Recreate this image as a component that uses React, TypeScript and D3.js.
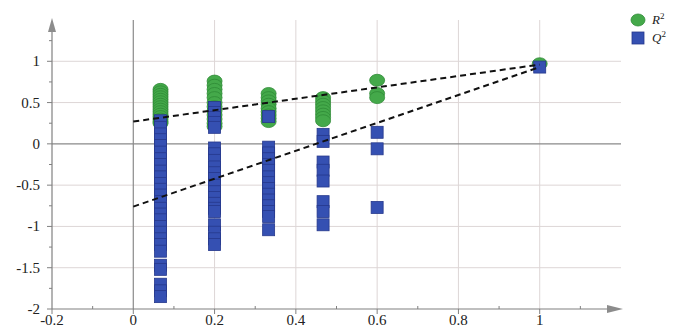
import React from 'react';
import * as d3 from 'd3';

// permutation retention (x) and the R2 / Q2 values found at each
const permX = [0.067, 0.2, 0.333, 0.467, 0.6, 1];

const r2Values = [
  [0.66, 0.63, 0.6, 0.57, 0.54, 0.51, 0.48, 0.45, 0.42, 0.39, 0.36, 0.33, 0.3, 0.27, 0.25],
  [0.76, 0.71, 0.66, 0.61, 0.56, 0.5, 0.45, 0.4, 0.35, 0.3, 0.25, 0.21],
  [0.61, 0.56, 0.52, 0.48, 0.43, 0.39, 0.35, 0.31, 0.27],
  [0.56, 0.52, 0.48, 0.44, 0.4, 0.36, 0.32, 0.28],
  [0.77, 0.61, 0.56],
  [0.97],
];

const q2Values = [
  [0.28, 0.2, 0.12, 0.05, -0.02, -0.1, -0.18, -0.25, -0.33, -0.4, -0.48, -0.55, -0.62, -0.7,
    -0.78, -0.85, -0.92, -1.0, -1.07, -1.15, -1.22, -1.3, -1.47, -1.52, -1.7, -1.78, -1.85],
  [0.44, 0.38, 0.32, 0.26, 0.2, -0.05, -0.12, -0.2, -0.28, -0.35, -0.42, -0.5, -0.58, -0.65,
    -0.72, -0.78, -0.82, -0.98, -1.07, -1.15, -1.22],
  [0.33, -0.04, -0.11, -0.18, -0.25, -0.32, -0.4, -0.47, -0.54, -0.61, -0.68, -0.75, -0.82, -0.88, -1.04],
  [0.115, 0.03, -0.22, -0.32, -0.45, -0.7, -0.82, -0.98],
  [0.14, -0.06, -0.77],
  [0.93],
];

// regression intercepts (at x = 0) and end points (at x = 1)
const r2Line = [0.27, 0.96];
const q2Line = [-0.76, 0.93];

const xTicks = [-0.2, 0, 0.2, 0.4, 0.6, 0.8, 1];
const yTicks = [-2, -1.5, -1, -0.5, 0, 0.5, 1];

const green = '#44a94a';
const blue = '#3550b2';
const font = 'Liberation Serif, Times New Roman, serif';

export default function App() {
  const width = 673;
  const height = 327;
  const x = d3.scaleLinear().domain([-0.2, 1.2]).range([52, 621]);
  const y = d3.scaleLinear().domain([-2, 1.5]).range([309, 20]);

  const x0 = x(-0.2);
  const x1 = x(1.2);
  const y0 = y(-2);
  const y1 = y(1.5);

  const xMinor = d3.range(-0.1, 1.15, 0.1).filter(v => Math.abs(Math.round(v * 5) - v * 5) > 0.01);
  const yMinor = d3.range(-1.75, 1.4, 0.5);

  const r2Pts = permX.flatMap((px, i) => r2Values[i].map(v => [px, v]));
  const q2Pts = permX.flatMap((px, i) => q2Values[i].map(v => [px, v]));

  const line = d3.line<number[]>().x(d => x(d[0])).y(d => y(d[1]));

  return (
    <svg width={width} height={height} style={{ position: 'absolute', left: 0, top: 0, background: '#fff' }}>
      {/* grid */}
      {yTicks.filter(v => v !== 0 && v !== -2).map(v => (
        <line key={'gy' + v} x1={x0} x2={x1} y1={y(v)} y2={y(v)} stroke="#ddd6d6" strokeWidth={1} />
      ))}
      {xTicks.filter(v => v > 0).map(v => (
        <line key={'gx' + v} x1={x(v)} x2={x(v)} y1={y0} y2={y1} stroke="#ddd6d6" strokeWidth={1} />
      ))}
      {/* zero lines */}
      <line x1={x0} x2={x1} y1={y(0)} y2={y(0)} stroke="#8a8a8a" strokeWidth={1.2} />
      <line x1={x(0)} x2={x(0)} y1={y0} y2={y1} stroke="#8a8a8a" strokeWidth={1.2} />

      {/* axes */}
      <line x1={x0} x2={x1 - 6} y1={y0} y2={y0} stroke="#808080" strokeWidth={1.2} />
      <path d={`M${x1 + 2},${y0} L${x1 - 14},${y0 - 4} L${x1 - 14},${y0 + 4} Z`} fill="#8c8c8c" />
      <line x1={x0} x2={x0} y1={y0} y2={y1 + 6} stroke="#808080" strokeWidth={1.2} />
      <path d={`M${x0},${y1 - 2} L${x0 - 4},${y1 + 12} L${x0 + 4},${y1 + 12} Z`} fill="#8c8c8c" />

      {yTicks.map(v => (
        <g key={'ty' + v}>
          <line x1={x0 - 5} x2={x0} y1={y(v)} y2={y(v)} stroke="#808080" />
          <text x={x0 - 12} y={y(v) + 5} textAnchor="end" fontFamily={font} fontSize={15} fill="#222">{v}</text>
        </g>
      ))}
      {yMinor.map(v => (
        <line key={'my' + v} x1={x0 - 3} x2={x0} y1={y(v)} y2={y(v)} stroke="#808080" />
      ))}
      {xTicks.map(v => (
        <g key={'tx' + v}>
          <line x1={x(v)} x2={x(v)} y1={y0} y2={y0 + 5} stroke="#808080" />
          <text x={x(v)} y={y0 + 16} textAnchor="middle" fontFamily={font} fontSize={15} fill="#222">{v}</text>
        </g>
      ))}
      {xMinor.map(v => (
        <line key={'mx' + v} x1={x(v)} x2={x(v)} y1={y0 - 3} y2={y0} stroke="#808080" />
      ))}

      {/* R2 points */}
      {r2Pts.map((d, i) => (
        <ellipse key={'r' + i} cx={x(d[0])} cy={y(d[1])} rx={7.5} ry={6} fill={green} stroke="#2f8a36" strokeWidth={0.8} />
      ))}
      {/* Q2 points */}
      {q2Pts.map((d, i) => (
        <rect key={'q' + i} x={x(d[0]) - 6} y={y(d[1]) - 6} width={12} height={12} fill={blue} stroke="#26388c" strokeWidth={0.8} />
      ))}

      {/* regression lines */}
      <path d={line([[0, r2Line[0]], [1, r2Line[1]]]) || ''} stroke="#111" strokeWidth={2} strokeDasharray="6,4" fill="none" />
      <path d={line([[0, q2Line[0]], [1, q2Line[1]]]) || ''} stroke="#111" strokeWidth={2} strokeDasharray="6,4" fill="none" />

      {/* legend */}
      <ellipse cx={638} cy={20} rx={7} ry={6} fill={green} stroke="#2f8a36" strokeWidth={0.8} />
      <text x={652} y={24} fontFamily={font} fontSize={13} fontStyle="italic" fill="#222">
        R<tspan dy={-5} fontSize={9} fontStyle="normal">2</tspan>
      </text>
      <rect x={632} y={32} width={12} height={12} fill={blue} stroke="#26388c" strokeWidth={0.8} />
      <text x={652} y={42} fontFamily={font} fontSize={13} fontStyle="italic" fill="#222">
        Q<tspan dy={-5} fontSize={9} fontStyle="normal">2</tspan>
      </text>
    </svg>
  );
}
